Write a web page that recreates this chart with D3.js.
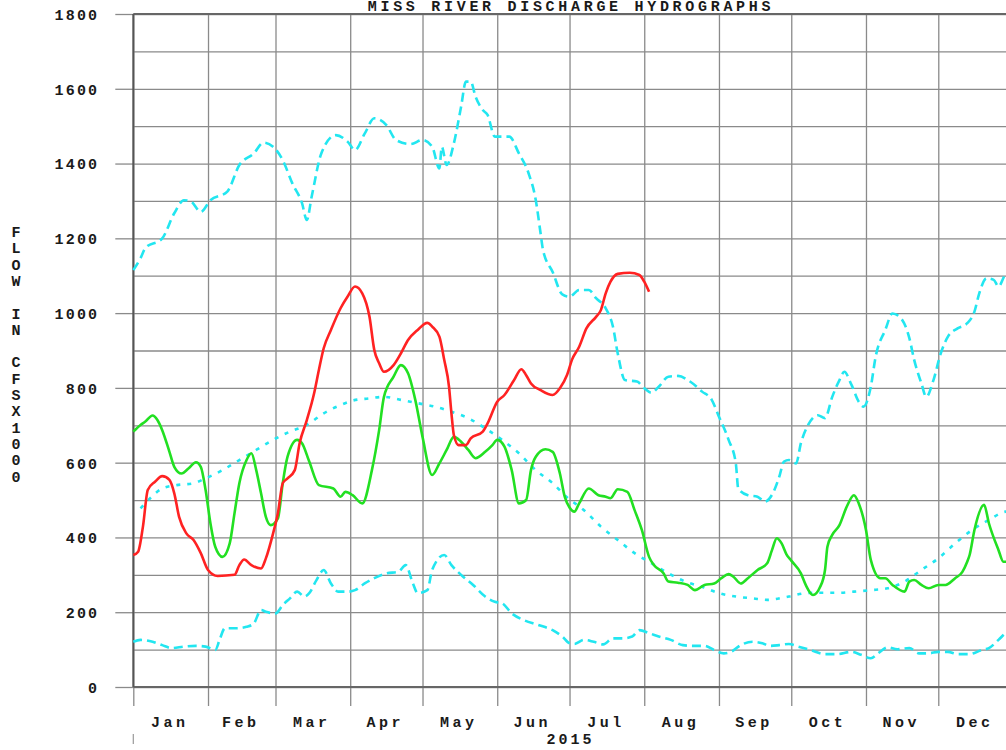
<!DOCTYPE html>
<html>
<head>
<meta charset="utf-8">
<script src="https://cdn.jsdelivr.net/npm/d3@7"></script>
<style>
  html, body { margin: 0; padding: 0; background: #fff; }
  svg { display: block; }
  text { font-family: "Liberation Mono", "DejaVu Sans Mono", monospace; font-weight: bold; fill: #1a1a1a; }
</style>
</head>
<body>
<script>
// ---------------- data ----------------
const chartTitle = "MISS RIVER DISCHARGE HYDROGRAPHS";
const yTitle = "FLOW IN CFSX1000";
const yearLabel = "2015";
const yTicks = [0, 200, 400, 600, 800, 1000, 1200, 1400, 1600, 1800];

// day-of-year (0 = Jan 1) and flow (1000 cfs)
const obsDays = [0,2,4,6,9,12,15,17,19,22,25,28,31,35,42,44,46,49,53,55,58,60,62,64,67,69,72,75,77,79,82,86,89,92,95,98,100,102,104,108,111,114,118,122,124,127,129,131,132,133,135,138,140,145,147,151,154,158,161,163,165,169,174,177,180,182,185,188,192,194,196,198,201,206,210,212,214];
const obsFlow = [353,362,429,527,549,564,554,518,455,411,393,358,313,297,300,326,341,326,317,344,411,465,545,558,580,652,714,785,848,906,955,1013,1045,1071,1053,990,901,866,843,861,892,928,955,974,964,937,875,803,732,674,647,647,665,683,705,763,781,821,850,834,812,794,781,799,835,875,910,959,990,1008,1053,1084,1105,1108,1102,1084,1057];

const prevDays = [0,3,5,8,10,12,15,17,20,23,26,28,30,32,34,37,40,42,44,47,49,51,53,55,57,60,62,64,68,70,73,77,83,86,88,91,95,99,102,104,108,111,114,117,120,124,127,130,133,136,139,142,146,149,151,154,157,160,163,165,167,171,174,177,179,181,183,185,189,193,196,198,201,205,208,211,214,216,220,222,226,230,233,237,241,244,247,249,252,255,259,263,265,267,269,271,273,277,279,282,285,287,288,290,293,296,299,301,304,306,310,312,315,320,322,324,327,330,334,337,341,344,346,347,349,353,355,359,361,364];
const prevFlow = [683,701,710,726,714,687,629,589,571,585,601,589,527,438,375,348,384,465,545,607,625,580,518,455,433,451,545,616,661,652,603,540,531,509,522,513,491,580,687,776,830,861,839,768,669,567,598,634,669,656,634,612,629,647,661,643,580,491,500,580,616,636,629,571,509,480,469,491,531,513,509,505,529,522,473,420,348,326,304,282,279,273,259,273,277,291,302,295,277,291,313,331,366,398,384,355,338,304,273,246,268,313,375,407,433,482,513,491,420,340,291,291,273,255,282,286,273,264,273,273,291,308,335,353,420,487,438,366,335,335];

const maxDays = [0,3,5,12,17,21,24,28,32,39,44,50,54,58,62,66,70,72,74,78,84,89,92,96,100,105,109,115,120,124,127,128,130,133,136,138,140,142,145,147,150,156,160,164,167,169,170,174,178,181,185,189,192,196,199,201,204,209,212,215,218,222,226,231,236,240,243,247,250,251,255,259,262,266,268,270,272,275,277,280,284,287,290,293,295,298,301,303,306,308,312,315,319,322,324,327,329,332,335,338,342,346,349,351,354,357,359,362,365];
const maxFlow = [1115,1147,1174,1200,1267,1302,1298,1271,1302,1325,1396,1427,1456,1445,1409,1347,1294,1249,1311,1427,1476,1458,1436,1480,1521,1503,1463,1452,1463,1445,1387,1445,1396,1454,1552,1619,1619,1579,1543,1530,1472,1472,1427,1374,1302,1213,1169,1110,1050,1044,1062,1062,1040,1013,964,892,821,817,799,787,803,830,832,817,790,768,723,661,598,531,513,509,496,527,562,603,607,598,652,701,727,719,776,821,843,808,763,750,803,883,955,999,982,933,875,812,776,821,892,937,959,973,1004,1053,1093,1089,1071,1102,1102];

const minDays = [0,3,8,12,16,21,26,30,34,36,38,43,47,50,53,55,59,62,65,68,71,73,76,79,82,85,89,92,96,100,105,110,113,116,118,122,124,129,132,136,141,146,150,153,157,162,168,174,178,181,183,187,191,195,199,203,207,210,214,218,223,228,232,237,241,245,248,252,257,261,264,268,272,276,281,287,292,298,302,306,309,313,317,322,326,330,334,338,342,347,352,355,359,362,365];
const minFlow = [121,126,121,112,104,108,110,108,99,130,157,157,161,170,206,201,197,219,237,255,242,251,286,313,277,255,255,259,277,291,304,308,326,277,251,259,313,353,326,300,273,242,228,224,197,179,166,152,135,117,115,126,121,114,130,130,135,152,144,135,126,112,110,110,99,90,94,112,121,117,110,112,115,108,99,88,88,94,86,77,90,106,101,104,90,90,94,94,88,88,99,104,126,144,150];

const meanDays = [3,7,12,18,25,30,37,44,51,58,65,72,79,86,91,98,104,111,118,125,132,139,146,153,160,167,174,180,187,194,201,208,215,222,229,236,243,250,257,263,272,279,286,293,299,306,313,320,327,334,341,348,355,362,365];
const meanFlow = [478,505,531,540,545,558,580,607,634,661,683,701,732,754,766,772,776,768,759,750,736,719,692,661,625,580,545,507,473,429,393,358,331,304,282,268,251,242,237,233,242,251,252,252,255,259,264,282,313,344,384,420,447,469,470];

// ---------------- layout ----------------
const W = 1006, H = 750;
const plotL = 133.3, plotR = 1013, plotT = 14, plotB = 687;
const fontPx = 15;

const svg = d3.select("body").append("svg").attr("width", W).attr("height", H);
svg.append("rect").attr("width", W).attr("height", H).attr("fill", "#fff");

const startDate = new Date(2015, 0, 1), endDate = new Date(2016, 0, 1);
const x = d3.scaleTime().domain([startDate, endDate]).range([plotL, plotR]);
const y = d3.scaleLinear().domain([0, 1800]).range([plotB, plotT]);
const dayDate = d => d3.timeDay.offset(startDate, d);
const months = d3.timeMonth.range(startDate, endDate);

const gridColor = "#8a8a8a";

// horizontal grid (every 100)
const hGrid = svg.append("g").attr("transform", `translate(${plotL},0)`)
  .call(d3.axisLeft(y).tickValues(d3.range(0, 1801, 100)).tickSize(-(plotR - plotL)).tickFormat(""));
hGrid.select(".domain").remove();
hGrid.selectAll("line").attr("stroke", gridColor).attr("stroke-width", 1.3);

// vertical grid (month boundaries) extending below the axis
const vGrid = svg.append("g").attr("transform", `translate(0,706)`)
  .call(d3.axisBottom(x).ticks(d3.timeMonth.every(1)).tickSize(-(706 - plotT)).tickFormat(""));
vGrid.select(".domain").remove();
vGrid.selectAll("line").attr("stroke", gridColor).attr("stroke-width", 1.3);

// y axis with outside ticks at labelled values
const yAxis = svg.append("g").attr("transform", `translate(${plotL},0)`)
  .call(d3.axisLeft(y).tickValues(yTicks).tickSize(18).tickPadding(16).tickFormat(d3.format("d")));
yAxis.select(".domain").remove();
yAxis.selectAll("line").attr("stroke", gridColor).attr("stroke-width", 1.3);
yAxis.selectAll("text").attr("font-size", fontPx).attr("letter-spacing", 2.2)
  .attr("dy", "0.36em").attr("fill", "#1a1a1a")
  .style("font-family", '"Liberation Mono", monospace').style("font-weight", "bold");

// frame
svg.append("line").attr("x1", plotL).attr("x2", plotR).attr("y1", plotT).attr("y2", plotT)
  .attr("stroke", "#666").attr("stroke-width", 2);
svg.append("line").attr("x1", plotL).attr("x2", plotR).attr("y1", plotB).attr("y2", plotB)
  .attr("stroke", "#666").attr("stroke-width", 2);
svg.append("line").attr("x1", plotL).attr("x2", plotL).attr("y1", plotT).attr("y2", plotB)
  .attr("stroke", "#555").attr("stroke-width", 2);
// year tick
svg.append("line").attr("x1", plotL).attr("x2", plotL).attr("y1", 734).attr("y2", 744)
  .attr("stroke", "#999").attr("stroke-width", 1.2);

// month labels
svg.append("g").selectAll("text").data(months).join("text")
  .attr("x", d => (x(d) + x(d3.timeMonth.offset(d, 1))) / 2 - 1)
  .attr("y", 727)
  .attr("text-anchor", "middle")
  .attr("font-size", fontPx).attr("letter-spacing", 3.5)
  .text(d => d3.timeFormat("%b")(d));

svg.append("text").attr("x", x(new Date(2015, 6, 1)) + 1).attr("y", 744)
  .attr("text-anchor", "middle").attr("font-size", fontPx).attr("letter-spacing", 3)
  .text(yearLabel);

// title at the top edge
svg.append("text").attr("x", 571).attr("y", 11)
  .attr("text-anchor", "middle").attr("font-size", fontPx).attr("letter-spacing", 3.7)
  .text(chartTitle);

// y title, stacked letters
svg.append("g").selectAll("text").data(yTitle.split("")).join("text")
  .attr("x", 16).attr("y", (d, i) => 237 + i * 16.3)
  .attr("text-anchor", "middle").attr("font-size", fontPx)
  .text(d => d === " " ? "" : d);

// ---------------- series ----------------
const line = d3.line().x(d => x(dayDate(d[0]))).y(d => y(d[1])).curve(d3.curveMonotoneX);
const zip = (a, b) => a.map((d, i) => [d, b[i]]);

const series = [
  { pts: zip(meanDays, meanFlow), color: "#22e6f0", dash: "4,7", w: 2.6 },
  { pts: zip(minDays, minFlow), color: "#22e6f0", dash: "9,5", w: 2.6 },
  { pts: zip(maxDays, maxFlow), color: "#22e6f0", dash: "9,5", w: 2.6 },
  { pts: zip(prevDays, prevFlow), color: "#22e022", dash: null, w: 2.6 },
  { pts: zip(obsDays, obsFlow), color: "#ff2222", dash: null, w: 2.6 }
];

svg.append("g").selectAll("path").data(series).join("path")
  .attr("d", d => line(d.pts))
  .attr("fill", "none")
  .attr("stroke", d => d.color)
  .attr("stroke-width", d => d.w)
  .attr("stroke-dasharray", d => d.dash)
  .attr("stroke-linejoin", "round");
</script>
</body>
</html>
